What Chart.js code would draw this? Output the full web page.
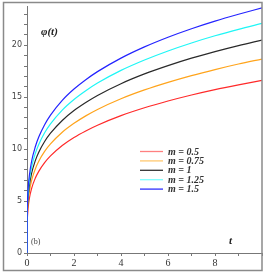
<!DOCTYPE html>
<html>
<head>
<meta charset="utf-8">
<script src="https://cdn.jsdelivr.net/npm/chart.js@4"></script>
<style>
  html, body { margin: 0; padding: 0; background: #fff; }
  canvas { display: block; }
</style>
</head>
<body>
<canvas id="chart" width="266" height="273"></canvas>
<script>
// t values and phi(t)
var tValues = [0, 0.005, 0.02, 0.05, 0.1, 0.2, 0.35, 0.5, 0.75, 1, 1.5, 2, 2.5, 3, 4, 5, 6, 7, 8, 9, 10];
var seriesLabels = ['m = 0.5', 'm = 0.75', 'm = 1', 'm = 1.25', 'm = 1.5'];
var seriesColors = ['#ff2a2a', '#ffa41c', '#2a2a2a', '#1ff6f6', '#2424ff'];
var legendColors = ['#ff8080', '#ffc870', '#333333', '#80ffff', '#3030ff'];

var m05  = [0, 2.49, 3.52, 4.42, 5.26, 6.25, 7.19, 7.86, 8.70, 9.35, 10.35, 11.12, 11.75, 12.30, 13.22, 13.98, 14.63, 15.21, 15.73, 16.19, 16.62];
var m075 = [0, 2.79, 3.95, 4.97, 5.90, 7.02, 8.07, 8.83, 9.78, 10.50, 11.62, 12.48, 13.20, 13.82, 14.85, 15.70, 16.43, 17.08, 17.66, 18.19, 18.67];
var m1   = [0, 3.07, 4.34, 5.45, 6.48, 7.71, 8.87, 9.70, 10.73, 11.53, 12.76, 13.71, 14.49, 15.17, 16.30, 17.24, 18.04, 18.76, 19.39, 19.97, 20.50];
var m125 = [0, 3.31, 4.67, 5.88, 6.99, 8.32, 9.56, 10.45, 11.57, 12.43, 13.76, 14.78, 15.62, 16.36, 17.58, 18.58, 19.45, 20.22, 20.91, 21.53, 22.10];
var m15  = [0, 3.53, 4.99, 6.28, 7.46, 8.88, 10.20, 11.16, 12.35, 13.27, 14.69, 15.78, 16.68, 17.46, 18.76, 19.84, 20.77, 21.59, 22.32, 22.98, 23.60];

var xTickLabels = [0, 2, 4, 6, 8];
var yTickLabels = [0, 5, 10, 15, 20];

var allSeries = [m05, m075, m1, m125, m15];

function toPoints(vals) {
  return vals.map(function (v, i) { return { x: tValues[i], y: v }; });
}

// frame, annotations and legend drawn on top
var decorations = {
  id: 'decorations',
  afterDraw: function (chart) {
    var ctx = chart.ctx;
    var area = chart.chartArea;
    ctx.save();
    ctx.strokeStyle = '#8a8a8a';
    ctx.lineWidth = 1.5;
    ctx.strokeRect(3.5, 2.5, area.right - 3.5, 268);

    ctx.fillStyle = '#222';
    ctx.textBaseline = 'middle';
    ctx.font = 'bold italic 11px "Liberation Serif"';
    ctx.fillText('\u03C6(t)', 41, 32);
    ctx.fillText('t', 229, 241);
    ctx.font = '8px "Liberation Serif"';
    ctx.fillStyle = '#444';
    ctx.fillText('(b)', 31, 242);

    // legend
    var lx = 140, ly = 151.5, step = 9.4;
    ctx.font = 'bold italic 10px "Liberation Serif"';
    for (var i = 0; i < seriesLabels.length; i++) {
      var y = ly + i * step;
      ctx.strokeStyle = legendColors[i];
      ctx.lineWidth = 1.3;
      ctx.beginPath();
      ctx.moveTo(lx, y);
      ctx.lineTo(lx + 23, y);
      ctx.stroke();
      ctx.fillStyle = '#333';
      ctx.fillText(seriesLabels[i], lx + 28, y + 0.5);
    }
    ctx.restore();
  }
};

new Chart(document.getElementById('chart'), {
  type: 'line',
  data: {
    datasets: allSeries.map(function (vals, i) {
      return {
        label: seriesLabels[i],
        data: toPoints(vals),
        borderColor: seriesColors[i],
        borderWidth: 1.2,
        pointRadius: 0,
        cubicInterpolationMode: 'monotone',
        fill: false
      };
    }).reverse()
  },
  options: {
    responsive: false,
    animation: false,
    layout: { padding: { left: 0, top: 2, right: 4, bottom: 0 } },
    plugins: {
      legend: { display: false },
      tooltip: { enabled: false }
    },
    scales: {
      x: {
        type: 'linear',
        min: 0,
        max: 10,
        afterFit: function (s) { s.height = 20; },
        border: { display: true, color: '#777', width: 1 },
        grid: { drawOnChartArea: false, drawTicks: true, tickLength: 3, color: '#777' },
        ticks: {
          stepSize: 1,
          includeBounds: false,
          padding: 1,
          maxRotation: 0,
          autoSkip: false,
          color: '#333',
          font: { family: '"Liberation Serif"', size: 10 },
          callback: function (v) { return xTickLabels.indexOf(v) >= 0 ? String(v) : ''; }
        }
      },
      y: {
        type: 'linear',
        min: 0,
        max: 23.7,
        afterFit: function (s) { s.width = 27; },
        border: { display: true, color: '#777', width: 1 },
        grid: { drawOnChartArea: false, drawTicks: true, tickLength: 3, color: '#777' },
        ticks: {
          stepSize: 1,
          includeBounds: false,
          padding: 2,
          autoSkip: false,
          color: '#444',
          font: { family: '"DejaVu Sans"', size: 8 },
          callback: function (v) { return yTickLabels.indexOf(v) >= 0 ? String(v) : ''; }
        }
      }
    }
  },
  plugins: [decorations]
});
</script>
</body>
</html>
